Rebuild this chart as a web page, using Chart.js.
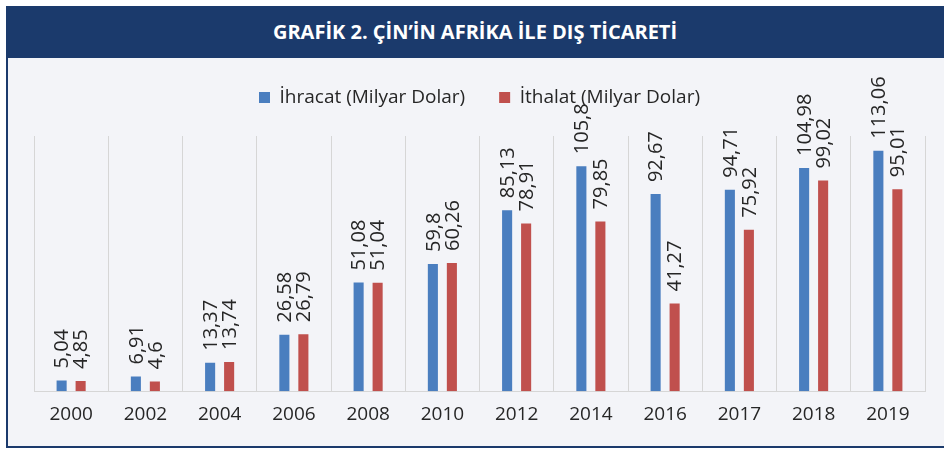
<!DOCTYPE html>
<html>
<head>
<meta charset="utf-8">
<script src="https://cdn.jsdelivr.net/npm/chart.js@4/dist/chart.umd.min.js"></script>
<style>
  body { margin: 0; background: #fff; }
  #wrap { position: relative; width: 944px; height: 450px; overflow: hidden; }
  #title {
    position: absolute; left: 6px; top: 6px; width: 938px; height: 52px;
    background: #1b3a6c; color: #fff; font: bold 20px "Open Sans", sans-serif;
    text-align: center; line-height: 52px; letter-spacing: 0;
  }
  #panel {
    position: absolute; left: 6px; top: 58px; width: 936px; height: 388px;
    background: #f3f4f8; border-left: 2px solid #1b3a6c; border-bottom: 2px solid #1b3a6c;
  }
  #chart { position: absolute; left: 6px; top: 58px; }
</style>
</head>
<body>
<div id="wrap">
  <div id="title">GRAFİK 2. ÇİN’İN AFRİKA İLE DIŞ TİCARETİ</div>
  <div id="panel"></div>
  <canvas id="chart" width="938" height="390"></canvas>
</div>
<script>
// years on the x axis
const years = ['2000', '2002', '2004', '2006', '2008', '2010', '2012', '2014', '2016', '2017', '2018', '2019'];
// China -> Africa exports and imports, billion USD
const exports = [5.04, 6.91, 13.37, 26.58, 51.08, 59.8, 85.13, 105.8, 92.67, 94.71, 104.98, 113.06];
const imports = [4.85, 4.6, 13.74, 26.79, 51.04, 60.26, 78.91, 79.85, 41.27, 75.92, 99.02, 95.01];

const labelFont = '20px "Open Sans", sans-serif';

// leave room between legend and plot
const legendGap = {
  id: 'legendGap',
  beforeInit(chart) {
    const fit = chart.legend.fit;
    chart.legend.fit = function () {
      fit.bind(chart.legend)();
      this.height += 19;
    };
  }
};

// rotated value labels above each bar, comma decimals
const barLabels = {
  id: 'barLabels',
  afterDatasetsDraw(chart) {
    const ctx = chart.ctx;
    ctx.save();
    ctx.font = labelFont;
    ctx.fillStyle = '#262626';
    ctx.textAlign = 'left';
    ctx.textBaseline = 'middle';
    chart.data.datasets.forEach((ds, i) => {
      chart.getDatasetMeta(i).data.forEach((bar, j) => {
        const txt = String(ds.data[j]).replace('.', ',');
        ctx.save();
        ctx.translate(bar.x, bar.y - 12);
        ctx.rotate(-Math.PI / 2);
        ctx.fillText(txt, 0, 1);
        ctx.restore();
      });
    });
    ctx.restore();
  }
};

new Chart(document.getElementById('chart'), {
  type: 'bar',
  data: {
    labels: years,
    datasets: [
      { label: 'İhracat (Milyar Dolar)', data: exports, backgroundColor: '#4a7ebf' },
      { label: 'İthalat (Milyar Dolar)', data: imports, backgroundColor: '#c0504d' }
    ]
  },
  options: {
    responsive: false,
    animation: false,
    layout: { padding: { top: -4, left: 28, right: 19, bottom: 10 } },
    datasets: { bar: { categoryPercentage: 0.512, barPercentage: 0.53 } },
    plugins: {
      legend: {
        position: 'top',
        labels: {
          font: { family: 'Open Sans', size: 19 },
          color: '#262626',
          boxWidth: 11, boxHeight: 11, padding: 34
        }
      },
      tooltip: { enabled: false }
    },
    scales: {
      x: {
        grid: { offset: true, color: '#d6d6d6', drawTicks: false },
        border: { color: '#d6d6d6' },
        ticks: { font: { family: 'Open Sans', size: 19 }, color: '#262626', padding: 12 }
      },
      y: { display: false, min: 0, max: 120 }
    }
  },
  plugins: [legendGap, barLabels]
});
</script>
</body>
</html>
